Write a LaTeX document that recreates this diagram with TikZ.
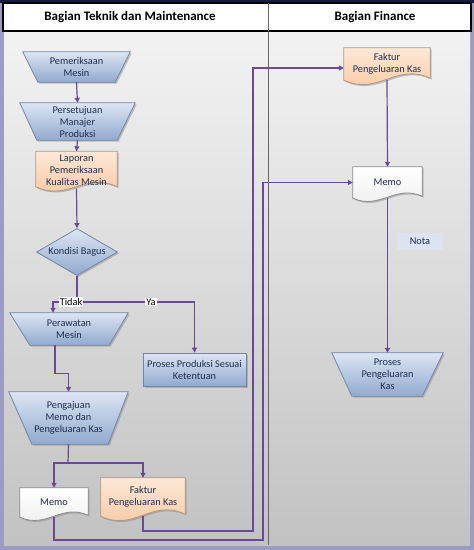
\documentclass[tikz,border=0pt]{standalone}
\usepackage{fontspec}
\setmainfont{Carlito}
\usepackage{tikz}
\usetikzlibrary{arrows.meta, shapes.geometric, backgrounds, shadows}
\usepackage{xcolor}

\definecolor{flowline}{HTML}{6A4A94}
\definecolor{txtblue}{HTML}{1F2E4E}
\definecolor{framelav}{HTML}{9C9CC2}
\definecolor{navy}{HTML}{1A1A3C}
\definecolor{opedge}{HTML}{7486A6}
\definecolor{optop}{HTML}{DCE5F3}
\definecolor{opbot}{HTML}{91AACF}
\definecolor{doctop}{HTML}{FDE8D6}
\definecolor{docbot}{HTML}{F8C59D}
\definecolor{docedge}{HTML}{B39683}
\definecolor{notafill}{HTML}{DDE4F1}

\tikzset{
  txt/.style={text=txtblue, font=\fontsize{10.3}{12}\selectfont, align=center, inner sep=0pt},
  shadowed/.style={drop shadow={shadow xshift=1.5pt, shadow yshift=-1.5pt, fill=black!45, opacity=0.5}},
  opshape/.style={shadowed, draw=opedge, line width=0.8pt, top color=optop, bottom color=opbot},
  docshape/.style={shadowed, draw=docedge, line width=0.8pt, top color=doctop, bottom color=docbot},
  memoshape/.style={shadowed, draw=black!45, line width=0.8pt, top color=white, bottom color=black!7},
  flow/.style={draw=flowline, line width=1.2pt, -{Triangle[length=5pt,width=5pt]}},
  link/.style={draw=flowline, line width=1.2pt},
  lbl/.style={fill=white, inner sep=1pt, font=\fontsize{10.3}{12}\selectfont},
}

\begin{document}
\begin{tikzpicture}[x=1pt, y=-1pt]
\useasboundingbox (0,0) rectangle (474,550);

% Frame and lanes
\begin{scope}[on background layer]
\fill[framelav] (0,0) rectangle (474,550);
\fill[navy] (0,0) rectangle (474,3);
\shade[top color=black!5, bottom color=black!24] (4,31) rectangle (470,545);
\fill[white] (3,3) rectangle (471,31);
\draw[black, line width=1.2pt] (3,3) rectangle (471,31);
\draw[black!60, line width=0.8pt] (268,3) -- (268,545);
\end{scope}
\node[font=\bfseries\fontsize{13}{15}\selectfont] (hteknik) at (130,17) {Bagian Teknik dan Maintenance};
\node[font=\bfseries\fontsize{13}{15}\selectfont] (hfinance) at (375,17) {Bagian Finance};

% Teknik lane
\node[txt, minimum width=107, minimum height=30] (pm) at (76.5,67) {Pemeriksaan\\Mesin};
\node[txt, minimum width=115, minimum height=37] (pj) at (77.5,121.5) {Persetujuan\\Manajer\\Produksi};
\node[txt, minimum width=81, minimum height=37] (lap) at (76.5,170) {Laporan\\Pemeriksaan\\Kualitas Mesin};
\node[txt, diamond, aspect=1.7, draw=opedge, line width=0.8pt, top color=optop, bottom color=opbot, shadowed,
      minimum width=81, minimum height=47] (kb) at (77,252) {Kondisi Bagus};
\node[txt, minimum width=118, minimum height=32] (pw) at (69,329) {Perawatan\\Mesin};
\node[txt, draw=opedge, line width=0.8pt, top color=optop, bottom color=opbot, shadowed,
      minimum width=103, minimum height=33] (pps) at (194.5,369.5) {Proses Produksi Sesuai\\Ketentuan};
\node[txt, minimum width=119, minimum height=52] (pmk) at (68.5,418) {Pengajuan\\Memo dan\\Pengeluaran Kas};
\node[txt, minimum width=68, minimum height=29] (ml) at (54,502.5) {Memo};
\node[txt, minimum width=84, minimum height=38] (fl) at (143,497) {Faktur\\Pengeluaran Kas};

% Finance lane
\node[txt, minimum width=86, minimum height=32] (fr) at (387,64) {Faktur\\Pengeluaran Kas};
\node[txt, minimum width=69, minimum height=31] (mr) at (387.5,182.5) {Memo};
\node[txt, fill=notafill, minimum width=46, minimum height=17] (nota) at (420,241) {Nota};
\node[txt, minimum width=111, minimum height=43] (ppk) at (387.5,374.5) {Proses\\Pengeluaran\\Kas};

% Shapes behind the texts
\begin{scope}[on background layer]
\path[opshape] (pm.north west) -- (pm.north east) -- ([xshift=-15pt]pm.south east) -- ([xshift=15pt]pm.south west) -- cycle;
\path[opshape] (pj.north west) -- (pj.north east) -- ([xshift=-18pt]pj.south east) -- ([xshift=17pt]pj.south west) -- cycle;
\path[opshape] (pw.north west) -- (pw.north east) -- ([xshift=-19pt]pw.south east) -- ([xshift=20pt]pw.south west) -- cycle;
\path[opshape] (pmk.north west) -- (pmk.north east) -- ([xshift=-20pt]pmk.south east) -- ([xshift=23pt]pmk.south west) -- cycle;
\path[opshape] (ppk.north west) -- (ppk.north east) -- ([xshift=-21pt]ppk.south east) -- ([xshift=20pt]ppk.south west) -- cycle;
\path[docshape] (lap.north west) -- (lap.north east) -- ([yshift=2pt]lap.south east) .. controls +(-32,-15) and +(32,15) .. ([yshift=2pt]lap.south west) -- cycle;
\path[docshape] (fl.north west) -- (fl.north east) -- ([yshift=2pt]fl.south east) .. controls +(-34,-16) and +(34,16) .. (fl.south west) -- cycle;
\path[docshape] (fr.north west) -- (fr.north east) -- ([yshift=2pt]fr.south east) .. controls +(-34,-16) and +(34,16) .. (fr.south west) -- cycle;
\path[memoshape] (ml.north west) -- (ml.north east) -- ([yshift=2pt]ml.south east) .. controls +(-27,-12) and +(27,12) .. (ml.south west) -- cycle;
\path[memoshape] (mr.north west) -- (mr.north east) -- ([yshift=2pt]mr.south east) .. controls +(-27,-12) and +(27,12) .. (mr.south west) -- cycle;
\end{scope}

% Connectors
\coordinate (kbsplit) at (77,302);
\coordinate (pmksplit) at (68,463);
\coordinate (busA) at (253,531);
\coordinate (busB) at (263,540);
\draw[flow] (pm.south) -- (pj.north);
\draw[flow] (pj.south) -- (lap.north);
\draw[flow] (lap.south) -- (kb.north);
\draw[link] (kb.south) -- (kbsplit);
\draw[flow] (kbsplit) -| ([xshift=-16pt]pw.north);
\draw[flow] (kbsplit) -| (pps.north);
\draw[flow] ([xshift=-14pt]pw.south) -- ++(0,28) -| (pmk.north);
\draw[link] (pmk.south) -- (pmksplit);
\draw[flow] (pmksplit) -| (ml.north);
\draw[flow] (pmksplit) -| (fl.north);
\draw[flow] (fl.south) |- (busA) |- ([yshift=-4pt]fr.west);
\draw[flow] (ml.south) |- (busB) |- (mr.west);
\draw[flow] (fr.south) -- (mr.north);
\draw[flow] (mr.south) -- (ppk.north);

% Branch labels
\node[lbl] (tidak) at (71,302) {Tidak};
\node[lbl] (ya) at (151,302) {Ya};
\end{tikzpicture}
\end{document}
